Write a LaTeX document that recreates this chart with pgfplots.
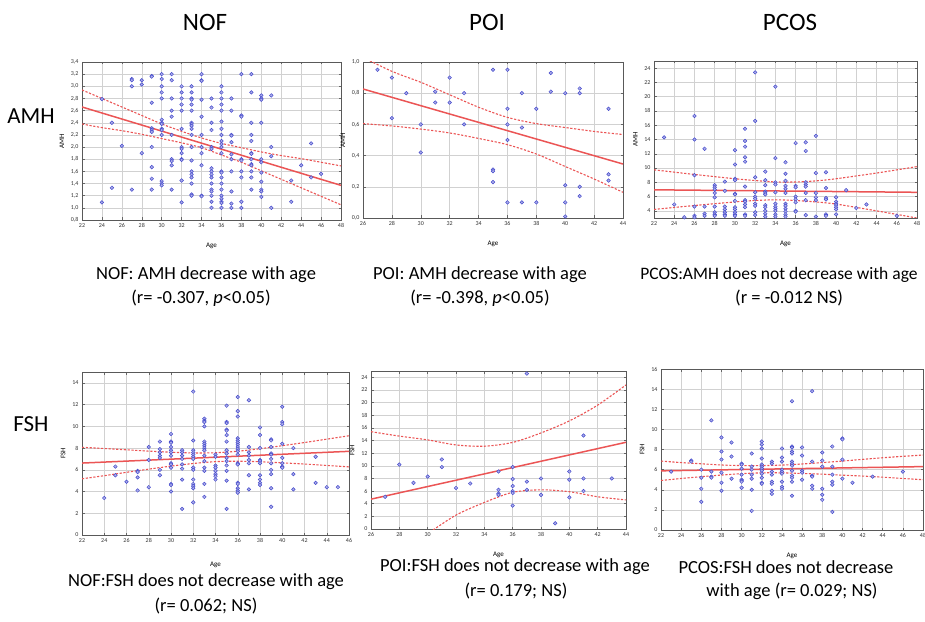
\documentclass[border=0pt]{standalone}
\usepackage{fontspec}
\setmainfont{Carlito}
\usepackage{pgfplots}
\pgfplotsset{compat=1.18}
\definecolor{dotblue}{RGB}{70,75,205}
\definecolor{fitred}{RGB}{235,85,85}

\pgfplotsset{
  panel/.style={
    scale only axis, anchor=south west,
    axis line style={draw=black!65, line width=0.8pt},
    grid=major, major grid style={draw=black!18, line width=0.5pt},
    tick style={draw=black!60, line width=0.5pt}, major tick length=2.5pt,
    tick label style={font=\fontsize{6}{7}\selectfont, text=black!80},
    label style={font=\fontsize{7}{8}\selectfont},
    xtick distance=2,
    xlabel={Age},
    xlabel style={at={(axis description cs:0.5,0)}, anchor=center, yshift=-26pt},
    /pgf/number format/assume math mode=true,
  },
  comma/.style={/pgf/number format/.cd, use comma, fixed, fixed zerofill, precision=1},
  dots/.style={only marks, mark=*, mark size=1.8pt,
    mark options={draw=dotblue, fill=dotblue!45, line width=0.5pt}},
  fit/.style={fitred, line width=1.5pt, no marks},
  band/.style={fitred, line width=1.1pt, dash pattern=on 2.2pt off 1.6pt, no marks},
}

\begin{document}
\begin{tikzpicture}[x=1pt,y=1pt]
\useasboundingbox (0,0) rectangle (925,621);

% column and row headings
\node[font=\fontsize{25}{30}\selectfont] at (205,599) {NOF};
\node[font=\fontsize{25}{30}\selectfont] at (487,599) {POI};
\node[font=\fontsize{25}{30}\selectfont] at (790,599) {PCOS};
\node[font=\fontsize{23}{28}\selectfont] at (31,505) {AMH};
\node[font=\fontsize{23}{28}\selectfont] at (31,197) {FSH};

% ---------- NOF AMH ----------
\begin{axis}[panel, at={(82pt,401pt)}, width=259pt, height=158pt,
  xmin=22, xmax=48, ymin=0.8, ymax=3.4, ylabel={AMH},
  ytick={0.8,1,1.2,1.4,1.6,1.8,2,2.2,2.4,2.6,2.8,3,3.2,3.4},
  yticklabel style={comma}]
\addplot[dots] coordinates {
(24,2.79)(24,1.09)(25,2.40)(25,1.33)(26,2.02)
(27,3.12)(27,3.10)(27,3.00)(27,1.30)(28,3.10)(28,3.03)(28,1.90)
(29,3.17)(29,3.16)(29,2.73)(29,2.31)(29,2.28)(29,2.25)(29,2.00)(29,1.67)(29,1.48)(29,1.30)
(30,3.20)(30,3.12)(30,3.00)(30,2.90)(30,2.80)(30,2.45)(30,2.40)(30,2.38)(30,2.30)(30,2.28)(30,2.20)(30,1.44)(30,1.40)(30,1.37)
(31,3.20)(31,3.10)(31,2.80)(31,2.60)(31,2.50)(31,2.20)(31,1.80)(31,1.77)(31,1.70)(31,1.30)
(32,3.00)(32,2.90)(32,2.80)(32,2.70)(32,2.60)(32,2.30)(32,2.00)(32,1.97)(32,1.90)(32,1.80)(32,1.79)(32,1.45)(32,1.09)
(33,3.00)(33,2.90)(33,2.80)(33,2.78)(33,2.70)(33,2.60)(33,2.40)(33,2.38)(33,2.35)(33,2.30)(33,2.20)(33,2.00)(33,1.78)(33,1.60)(33,1.55)(33,1.50)(33,1.40)(33,1.22)(33,1.20)
(34,3.20)(34,3.10)(34,3.09)(34,2.78)(34,2.50)(34,2.20)(34,2.00)(34,1.90)(34,1.70)(34,1.20)(34,1.19)
(35,2.80)(35,2.65)(35,2.40)(35,2.28)(35,2.00)(35,1.97)(35,1.65)(35,1.60)(35,1.55)(35,1.50)(35,1.40)(35,1.30)(35,1.27)(35,1.20)(35,1.10)(35,1.00)
(36,3.00)(36,2.90)(36,2.80)(36,2.70)(36,2.60)(36,2.42)(36,2.30)(36,2.20)(36,2.10)(36,2.05)(36,2.00)(36,1.90)(36,1.60)(36,1.58)(36,1.50)(36,1.40)(36,1.30)(36,1.20)(36,1.15)(36,1.10)(36,1.08)(36,1.00)
(37,2.80)(37,2.60)(37,2.20)(37,2.19)(37,2.08)(37,1.88)(37,1.80)(37,1.60)(37,1.27)(37,1.07)(37,1.00)
(38,3.20)(38,2.52)(38,2.50)(38,1.80)(38,1.78)(38,1.60)(38,1.50)(38,1.10)(38,1.00)
(39,3.20)(39,2.90)(39,2.40)(39,2.20)(39,2.10)(39,1.90)(39,1.89)(39,1.80)(39,1.72)(39,1.70)(39,1.60)(39,1.50)(39,1.30)
(40,2.85)(40,2.80)(40,2.78)(40,2.40)(40,1.80)(40,1.75)(40,1.58)(40,1.43)(40,1.30)(40,1.27)(40,1.18)
(41,2.85)(41,2.00)(41,1.85)(41,1.00)(43,1.45)(43,1.10)(44,1.70)(45,2.06)(45,1.50)(46,1.56)
};
\addplot[fit] coordinates {(22,2.66)(48,1.37)};
\addplot[band, smooth] coordinates {(22,2.94)(24,2.80)(26,2.66)(28,2.52)(30,2.38)(32,2.26)(34,2.15)(36,2.06)(38,1.99)(40,1.92)(42,1.86)(44,1.81)(46,1.75)(48,1.69)};
\addplot[band, smooth] coordinates {(22,2.38)(24,2.32)(26,2.27)(28,2.21)(30,2.14)(32,2.07)(34,1.99)(36,1.87)(38,1.75)(40,1.61)(42,1.47)(44,1.33)(46,1.19)(48,1.05)};
\end{axis}

% ---------- POI AMH ----------
\begin{axis}[panel, at={(363pt,403pt)}, width=260pt, height=156pt,
  xmin=26, xmax=44, ymin=0, ymax=1, ylabel={AMH},
  ytick={0,0.2,0.4,0.6,0.8,1}, yticklabel style={comma}]
\addplot[dots] coordinates {
(27,0.95)(28,0.90)(28,0.64)(29,0.80)(30,0.60)(30,0.42)(31,0.81)(31,0.74)
(32,0.90)(32,0.74)(33,0.80)(33,0.60)(35,0.95)(35,0.31)(35,0.30)(35,0.23)
(36,0.95)(36,0.70)(36,0.60)(36,0.50)(36,0.10)(37,0.80)(37,0.58)(37,0.10)
(38,0.70)(38,0.10)(39,0.93)(39,0.81)(40,0.80)(40,0.21)(40,0.10)(40,0.01)
(41,0.83)(41,0.80)(41,0.20)(41,0.14)(43,0.70)(43,0.28)(43,0.24)
};
\addplot[fit] coordinates {(26,0.827)(44,0.346)};
\addplot[band, smooth] coordinates {(26,1.03)(28,0.94)(30,0.87)(32,0.79)(34,0.71)(36,0.645)(38,0.605)(40,0.58)(42,0.555)(44,0.535)};
\addplot[band, smooth] coordinates {(26,0.605)(28,0.59)(30,0.57)(32,0.545)(34,0.51)(36,0.47)(38,0.41)(40,0.33)(42,0.25)(44,0.165)};
\end{axis}

% ---------- PCOS AMH ----------
\begin{axis}[panel, at={(654pt,403pt)}, width=263pt, height=157pt,
  xmin=22, xmax=48, ymin=3, ymax=25, ylabel={AMH},
  ytick={4,6,...,24}]
\addplot[dots] coordinates {
(23,14.3)(24,4.9)(25,3.1)
(26,17.3)(26,14.0)(26,9.0)(26,4.6)(26,3.3)(26,3.1)
(27,12.7)(27,4.6)(27,3.6)(27,3.3)
(28,7.6)(28,7.3)(28,7.0)(28,6.5)(28,5.9)(28,4.6)(28,3.8)(28,3.5)(28,3.3)
(29,8.1)(29,6.8)(29,4.6)(29,4.2)(29,3.8)(29,3.5)(29,3.3)
(30,12.5)(30,10.5)(30,8.5)(30,8.3)(30,6.4)(30,6.3)(30,5.4)(30,4.5)(30,4.2)(30,3.8)(30,3.5)(30,3.3)
(31,15.5)(31,13.8)(31,13.0)(31,11.5)(31,10.9)(31,7.4)(31,5.5)(31,5.3)(31,4.9)(31,4.5)(31,3.5)(31,3.3)
(32,23.4)(32,16.6)(32,8.7)(32,6.6)(32,6.0)(32,5.7)(32,5.0)(32,4.7)(32,3.8)(32,3.4)
(33,9.5)(33,8.3)(33,7.6)(33,6.7)(33,6.5)(33,6.3)(33,4.8)(33,4.5)(33,4.0)(33,3.6)(33,3.2)
(34,21.4)(34,11.4)(34,8.0)(34,7.7)(34,6.6)(34,5.0)(34,4.6)(34,4.3)(34,4.0)(34,3.5)(34,3.2)
(35,10.8)(35,9.2)(35,8.2)(35,7.5)(35,7.1)(35,6.5)(35,5.0)(35,4.7)(35,4.3)(35,3.9)(35,3.5)(35,3.2)
(36,13.5)(36,7.5)(36,7.3)(36,6.0)(36,5.6)(36,5.2)(36,4.0)(36,3.9)
(37,13.6)(37,12.4)(37,8.0)(37,7.7)(37,7.4)(37,6.5)(37,5.5)(37,3.4)
(38,14.5)(38,9.3)(38,6.5)(38,5.9)(38,5.5)(38,3.2)
(39,9.4)(39,7.2)(39,5.8)(39,5.6)(39,3.5)(39,3.3)
(40,5.9)(40,5.3)(40,5.0)(40,4.8)(40,4.5)(40,4.2)(40,3.5)
(41,6.9)(42,4.4)(43,4.9)(46,3.3)
};
\addplot[fit] coordinates {(22,6.95)(48,6.60)};
\addplot[band, smooth] coordinates {(22,9.75)(26,9.1)(30,8.5)(32,8.25)(34,8.05)(36,8.05)(38,8.2)(40,8.5)(44,9.3)(48,10.2)};
\addplot[band, smooth] coordinates {(22,4.2)(26,4.75)(30,5.25)(32,5.45)(34,5.55)(36,5.45)(38,5.25)(40,4.95)(44,4.0)(48,3.0)};
\end{axis}

% ---------- NOF FSH ----------
\begin{axis}[panel, at={(82pt,86pt)}, width=267pt, height=163pt,
  xmin=22, xmax=46, ymin=0, ymax=15, ylabel={FSH},
  ytick={0,2,...,14}, xlabel style={yshift=-4pt}]
\addplot[dots] coordinates {
(24,3.4)(25,6.3)(25,5.5)(26,4.9)(27,5.9)(27,5.8)(27,5.3)(27,4.1)(28,8.1)(28,6.9)(28,4.4)
(29,8.6)(29,7.9)(29,7.6)(29,7.3)(29,7.1)(29,6.0)(29,5.5)
(30,9.3)(30,8.6)(30,8.5)(30,8.1)(30,7.8)(30,7.6)(30,7.3)(30,6.6)(30,6.5)(30,6.2)(30,4.7)(30,4.6)(30,4.0)
(31,7.8)(31,7.6)(31,7.3)(31,7.0)(31,6.5)(31,6.1)(31,5.1)(31,2.4)
(32,13.2)(32,8.7)(32,7.8)(32,7.6)(32,7.4)(32,7.2)(32,7.0)(32,6.2)(32,6.0)(32,5.1)(32,4.7)(32,4.5)(32,4.3)(32,3.0)
(33,10.7)(33,10.5)(33,10.4)(33,10.0)(33,8.6)(33,8.4)(33,8.2)(33,8.0)(33,7.8)(33,7.3)(33,6.8)(33,6.2)(33,5.9)(33,4.7)(33,3.5)
(34,7.4)(34,7.2)(34,6.4)(34,6.2)(34,5.9)(34,5.6)(34,5.4)(34,5.1)
(35,11.9)(35,10.4)(35,10.3)(35,9.7)(35,9.6)(35,9.2)(35,8.6)(35,7.8)(35,7.5)(35,7.1)(35,6.8)(35,6.4)(35,5.9)(35,5.0)(35,2.4)
(36,12.7)(36,11.4)(36,10.9)(36,8.9)(36,8.7)(36,8.5)(36,8.3)(36,8.1)(36,7.9)(36,7.7)(36,7.4)(36,6.6)(36,6.5)(36,4.8)(36,4.7)(36,4.3)(36,4.1)(36,3.9)
(37,12.4)(37,8.1)(37,7.6)(37,7.3)(37,6.9)(37,6.6)(37,5.5)(37,4.2)
(38,9.9)(38,9.2)(38,8.0)(38,6.9)(38,6.8)(38,6.6)(38,5.5)(38,5.1)(38,4.8)(38,4.6)
(39,8.8)(39,8.7)(39,8.1)(39,7.5)(39,7.4)(39,7.0)(39,6.6)(39,6.0)(39,5.6)(39,4.3)(39,2.6)
(40,11.8)(40,10.4)(40,10.2)(40,8.4)(40,7.1)(40,6.6)(40,6.3)(40,6.2)
(41,8.0)(41,5.6)(41,4.2)(43,7.2)(43,4.8)(44,4.4)(45,4.4)
};
\addplot[fit] coordinates {(22,6.62)(46,7.70)};
\addplot[band, smooth] coordinates {(22,8.07)(24,7.96)(26,7.84)(28,7.72)(30,7.62)(32,7.55)(34,7.57)(36,7.71)(38,7.94)(40,8.22)(42,8.51)(44,8.82)(46,9.13)};
\addplot[band, smooth] coordinates {(22,5.17)(24,5.46)(26,5.77)(28,6.06)(30,6.34)(32,6.58)(34,6.75)(36,6.79)(38,6.74)(40,6.64)(42,6.53)(44,6.40)(46,6.27)};
\end{axis}

% ---------- POI FSH ----------
\begin{axis}[panel, at={(371pt,92pt)}, width=255pt, height=158pt,
  xmin=26, xmax=44, ymin=0, ymax=25, ylabel={FSH},
  ytick={0,2,...,24}]
\addplot[dots] coordinates {
(27,5.1)(28,10.2)(29,7.3)(30,8.3)(31,11.0)(31,9.8)(32,6.5)(33,7.2)
(35,9.1)(35,6.2)(35,5.6)(35,5.4)(36,9.8)(36,7.9)(36,6.8)(36,6.0)(36,5.7)(36,3.7)
(37,24.6)(37,7.5)(37,6.2)(38,8.0)(38,5.4)(39,0.9)(40,9.1)(40,7.8)(40,5.0)
(41,14.8)(41,8.0)(41,6.0)(43,8.0)
};
\addplot[fit] coordinates {(26,4.72)(44,13.72)};
\addplot[band, smooth] coordinates {(26,15.4)(28,14.7)(30,14.1)(32,13.3)(34,13.1)(36,13.7)(38,15.2)(40,17.1)(42,19.6)(44,22.8)};
\addplot[band, smooth] coordinates {(26,-6.0)(28,-3.3)(30,-0.7)(32,2.2)(34,4.2)(36,5.8)(38,6.2)(40,5.9)(42,5.1)(44,4.6)};
\end{axis}

% ---------- PCOS FSH ----------
\begin{axis}[panel, at={(661pt,91pt)}, width=262pt, height=161pt,
  xmin=22, xmax=48, ymin=0, ymax=16, ylabel={FSH},
  ytick={0,2,...,16}]
\addplot[dots] coordinates {
(23,5.8)(25,6.9)(25,6.8)(26,6.0)(26,5.2)(26,4.1)(26,2.8)(27,10.9)(27,5.8)(27,5.3)(27,5.2)
(28,9.2)(28,7.8)(28,7.0)(28,5.7)(28,4.7)(28,3.9)(29,8.7)(29,7.3)(29,5.1)
(30,6.6)(30,6.5)(30,6.1)(30,5.5)(30,5.0)(30,4.9)(30,4.8)(30,4.2)
(31,7.6)(31,6.3)(31,6.0)(31,5.5)(31,5.1)(31,4.0)(31,1.9)
(32,8.8)(32,8.5)(32,8.1)(32,7.1)(32,6.5)(32,6.3)(32,6.1)(32,5.9)(32,5.6)(32,5.2)(32,4.7)(32,4.6)
(33,6.8)(33,6.6)(33,5.8)(33,5.5)(33,4.8)(33,4.6)(33,3.9)(33,3.6)
(34,8.1)(34,7.2)(34,6.8)(34,6.0)(34,5.8)(34,5.6)(34,4.8)(34,4.3)(34,4.1)
(35,12.8)(35,8.3)(35,8.2)(35,7.8)(35,7.6)(35,6.8)(35,6.6)(35,6.4)(35,5.9)(35,5.4)(35,5.2)(35,4.8)(35,3.4)
(36,8.2)(36,7.4)(36,5.9)(36,5.7)(36,5.0)
(37,13.8)(37,6.8)(37,5.4)(37,5.3)(37,4.4)(37,4.1)
(38,7.7)(38,6.9)(38,6.3)(38,4.1)(38,3.5)(38,3.0)
(39,8.3)(39,6.3)(39,5.5)(39,4.8)(39,4.5)(39,1.8)
(40,9.1)(40,9.0)(40,7.0)(40,5.1)(41,4.7)(43,5.3)(46,5.8)
};
\addplot[fit] coordinates {(22,5.88)(48,6.30)};
\addplot[band, smooth] coordinates {(22,6.85)(24,6.70)(26,6.58)(28,6.46)(30,6.40)(32,6.40)(34,6.45)(36,6.56)(38,6.70)(40,6.85)(42,7.02)(44,7.18)(46,7.32)(48,7.45)};
\addplot[band, smooth] coordinates {(22,4.92)(24,5.12)(26,5.30)(28,5.46)(30,5.60)(32,5.68)(34,5.68)(36,5.62)(38,5.55)(40,5.45)(42,5.36)(44,5.25)(46,5.12)(48,5.00)};
\end{axis}

% captions
\begin{scope}[every node/.style={font=\fontsize{18.5}{22}\selectfont}]
\node at (206,346) {NOF: AMH decrease with age};
\node at (201,323) {(r= -0.307, \textit{p}<0.05)};
\node at (480,346) {POI: AMH decrease with age};
\node at (480,323) {(r= -0.398, \textit{p}<0.05)};
\node[font=\fontsize{17.5}{21}\selectfont] at (779,346) {PCOS:AMH does not decrease with age};
\node at (789,323) {(r = -0.012 NS)};
\node at (206,39) {NOF:FSH does not decrease with age};
\node at (206,15) {(r= 0.062; NS)};
\node at (515,54) {POI:FSH does not decrease with age};
\node at (516,30) {(r= 0.179; NS)};
\node at (786,54) {PCOS:FSH does not decrease};
\node at (792,30) {with age (r= 0.029; NS)};
\end{scope}
\end{tikzpicture}
\end{document}
